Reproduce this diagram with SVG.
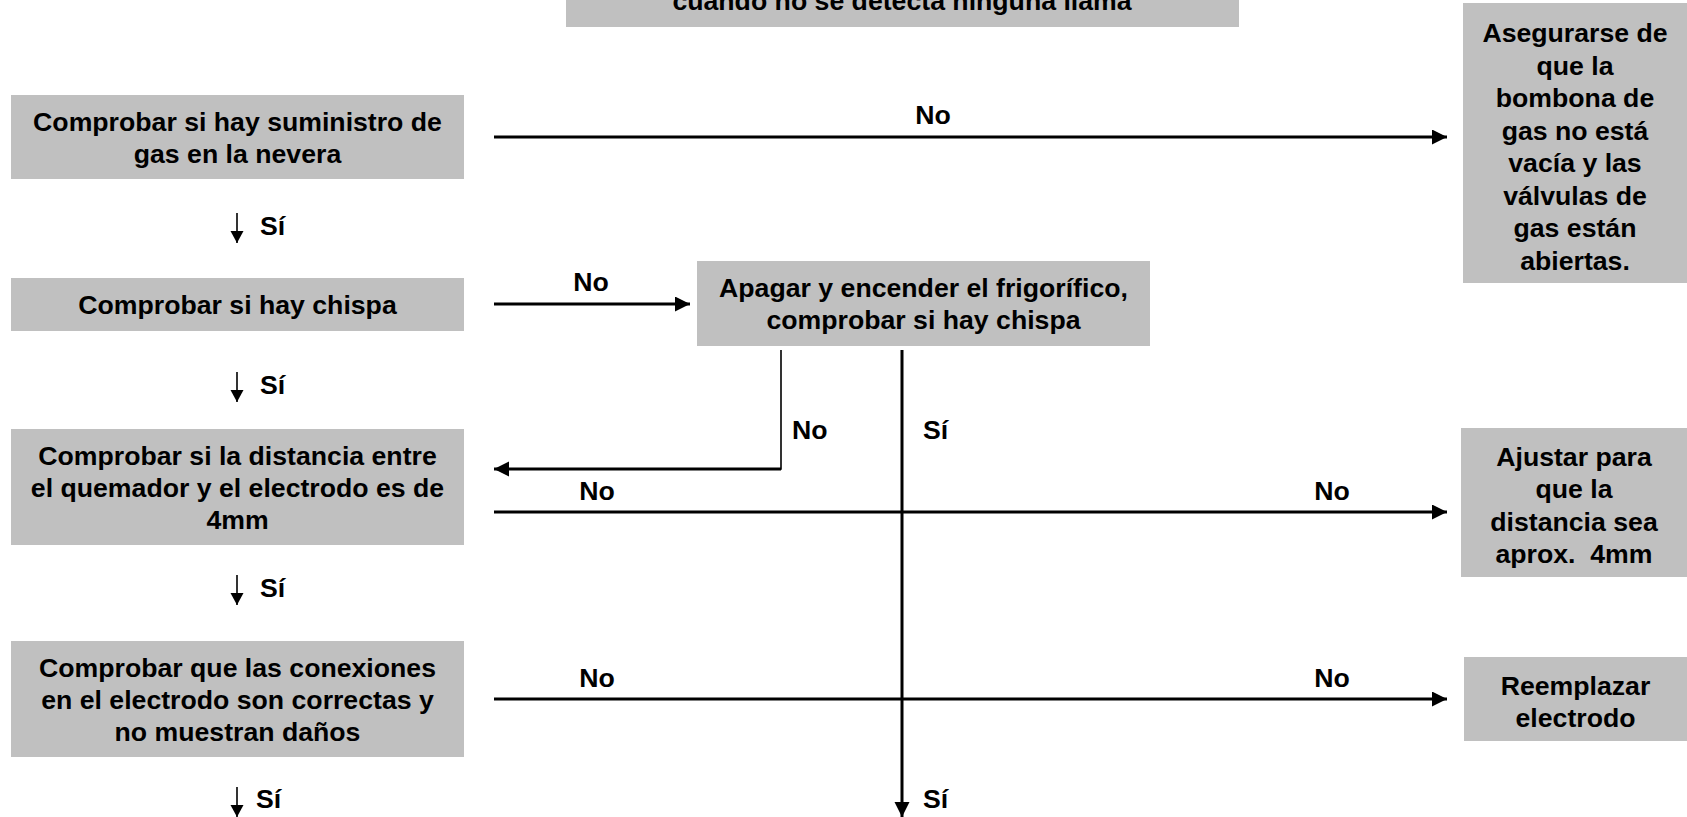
<svg xmlns="http://www.w3.org/2000/svg" width="1687" height="817" viewBox="0 0 1687 817">
  <style>
    .box { fill: #c0c0c0; }
    .t { font-family: "Liberation Sans", Arial, sans-serif; font-weight: bold; font-size: 26.67px; fill: #000; text-anchor: middle; }
    .lbl { font-family: "Liberation Sans", Arial, sans-serif; font-weight: bold; font-size: 26.67px; fill: #000; }
    .ln { fill: none; stroke: #000; stroke-width: 3; }
    .thin { fill: none; stroke: #000; stroke-width: 1.6; }
  </style>
  <defs>
    <marker id="ah" markerUnits="userSpaceOnUse" markerWidth="16" markerHeight="16" refX="15" refY="7.5" orient="auto">
      <path d="M0,0 L15,7.5 L0,15 z" fill="#000"/>
    </marker>
    <marker id="ahs" markerUnits="userSpaceOnUse" markerWidth="14" markerHeight="14" refX="12" refY="6.5" orient="auto">
      <path d="M0,0 L12,6.5 L0,13 z" fill="#000"/>
    </marker>
  </defs>

  <!-- title box, partly above the page -->
  <g id="title">
    <rect class="box" x="566" y="-60" width="673" height="87"/>
    <text class="t" x="902" y="10">cuando no se detecta ninguna llama</text>
  </g>

  <!-- left column of checks -->
  <g id="check-gas">
    <rect class="box" x="11" y="95" width="453" height="84"/>
    <text class="t" x="237.5" y="131">Comprobar si hay suministro de</text>
    <text class="t" x="237.5" y="163">gas en la nevera</text>
  </g>
  <g id="check-spark">
    <rect class="box" x="11" y="278" width="453" height="53"/>
    <text class="t" x="237.5" y="314">Comprobar si hay chispa</text>
  </g>
  <g id="check-distance">
    <rect class="box" x="11" y="429" width="453" height="116"/>
    <text class="t" x="237.5" y="465">Comprobar si la distancia entre</text>
    <text class="t" x="237.5" y="497">el quemador y el electrodo es de</text>
    <text class="t" x="237.5" y="529">4mm</text>
  </g>
  <g id="check-connections">
    <rect class="box" x="11" y="641" width="453" height="116"/>
    <text class="t" x="237.5" y="677">Comprobar que las conexiones</text>
    <text class="t" x="237.5" y="709">en el electrodo son correctas y</text>
    <text class="t" x="237.5" y="741">no muestran daños</text>
  </g>

  <!-- restart step -->
  <g id="restart">
    <rect class="box" x="697" y="261" width="453" height="85"/>
    <text class="t" x="923.5" y="297">Apagar y encender el frigorífico,</text>
    <text class="t" x="923.5" y="329">comprobar si hay chispa</text>
  </g>

  <!-- right column of actions -->
  <g id="gas-bottle">
    <rect class="box" x="1463" y="3" width="224" height="280"/>
    <text class="t" x="1575" y="42">Asegurarse de</text>
    <text class="t" x="1575" y="74.5">que la</text>
    <text class="t" x="1575" y="107">bombona de</text>
    <text class="t" x="1575" y="139.5">gas no está</text>
    <text class="t" x="1575" y="172">vacía y las</text>
    <text class="t" x="1575" y="204.5">válvulas de</text>
    <text class="t" x="1575" y="237">gas están</text>
    <text class="t" x="1575" y="269.5">abiertas.</text>
  </g>
  <g id="adjust">
    <rect class="box" x="1461" y="428" width="226" height="149"/>
    <text class="t" x="1574" y="465.5">Ajustar para</text>
    <text class="t" x="1574" y="498">que la</text>
    <text class="t" x="1574" y="530.5">distancia sea</text>
    <text class="t" x="1574" y="563">aprox.&#160; 4mm</text>
  </g>
  <g id="replace">
    <rect class="box" x="1464" y="657" width="223" height="84"/>
    <text class="t" x="1575.5" y="695">Reemplazar</text>
    <text class="t" x="1575.5" y="727">electrodo</text>
  </g>

  <!-- connectors and their labels -->
  <g id="connectors">
    <line class="ln" x1="494" y1="137" x2="1447" y2="137" marker-end="url(#ah)"/>
    <text class="t" x="933" y="124">No</text>

    <line class="thin" x1="237" y1="213" x2="237" y2="243" marker-end="url(#ahs)"/>
    <text class="lbl" x="260" y="235">Sí</text>

    <line class="ln" x1="494" y1="304" x2="690" y2="304" marker-end="url(#ah)"/>
    <text class="t" x="591" y="291">No</text>

    <line class="thin" x1="237" y1="372" x2="237" y2="402" marker-end="url(#ahs)"/>
    <text class="lbl" x="260" y="394">Sí</text>

    <polyline class="thin" points="781,350 781,469 510,469"/>
    <line class="ln" x1="781" y1="469" x2="494" y2="469" marker-end="url(#ah)"/>
    <text class="lbl" x="792" y="439">No</text>

    <line class="ln" x1="902" y1="350" x2="902" y2="817" marker-end="url(#ah)"/>
    <text class="lbl" x="923" y="439">Sí</text>
    <text class="lbl" x="923" y="808">Sí</text>

    <line class="ln" x1="494" y1="512" x2="1447" y2="512" marker-end="url(#ah)"/>
    <text class="t" x="597" y="500">No</text>
    <text class="t" x="1332" y="500">No</text>

    <line class="thin" x1="237" y1="575" x2="237" y2="605" marker-end="url(#ahs)"/>
    <text class="lbl" x="260" y="597">Sí</text>

    <line class="ln" x1="494" y1="699" x2="1447" y2="699" marker-end="url(#ah)"/>
    <text class="t" x="597" y="687">No</text>
    <text class="t" x="1332" y="687">No</text>

    <line class="thin" x1="237" y1="787" x2="237" y2="817" marker-end="url(#ahs)"/>
    <text class="lbl" x="256" y="808">Sí</text>
  </g>
</svg>
